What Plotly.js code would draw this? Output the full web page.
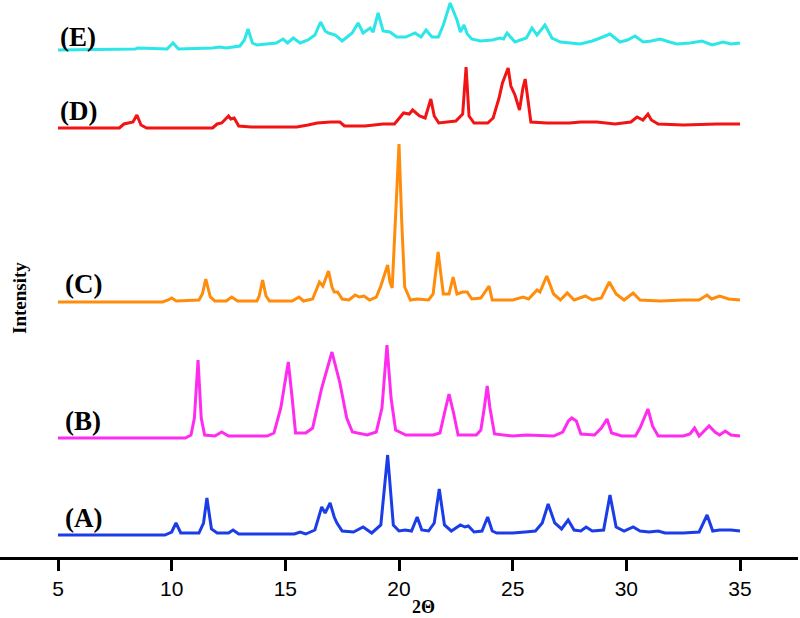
<!DOCTYPE html>
<html>
<head>
<meta charset="utf-8">
<script src="https://cdn.plot.ly/plotly-3.0.1.min.js"></script>
<style>
  html, body { margin: 0; padding: 0; background: #fff; }
  #chart { width: 800px; height: 618px; }
</style>
</head>
<body>
<div id="chart"></div>
<script>
// 2theta / intensity pairs (intensity above each pattern's own baseline)
let patternA = [[5,0],[9.7,0],[10.0,3],[10.19,12],[10.4,2],[11.2,2],[11.4,12],[11.55,37],[11.75,6],[12.0,2],[12.5,2],[12.7,5],[12.95,1],[15.4,1],[15.65,3],[15.9,1],[16.3,5],[16.6,28],[16.75,22],[16.97,32],[17.15,18],[17.27,12],[17.5,4],[18.0,3],[18.42,8],[18.8,2],[19.2,10],[19.5,80],[19.75,10],[20.0,4],[20.27,5],[20.55,4],[20.8,18],[21.0,5],[21.3,4],[21.55,12],[21.77,46],[22.0,10],[22.3,4],[22.7,10],[22.9,8],[23.05,9],[23.3,3],[23.65,4],[23.9,18],[24.1,4],[24.3,2],[25.0,2],[25.55,3],[26.0,4],[26.3,12],[26.56,31],[26.85,12],[27.15,6],[27.44,15],[27.7,5],[28.0,4],[28.23,8],[28.5,4],[29.0,5],[29.28,40],[29.55,8],[29.9,4],[30.3,8],[30.6,4],[31.0,3],[31.4,4],[31.7,2],[32.5,2],[33.2,3],[33.55,20],[33.8,4],[34.1,5],[34.6,5],[35,4]];

let patternB = [[5,0],[10.6,0],[10.85,3],[11.0,20],[11.16,78],[11.3,20],[11.45,3],[11.9,2],[12.2,6],[12.5,2],[14.2,2],[14.5,5],[14.8,30],[15.13,76],[15.3,40],[15.45,5],[15.9,5],[16.2,10],[16.6,50],[17.05,86],[17.4,55],[17.7,20],[17.95,6],[18.6,3],[19.0,6],[19.25,30],[19.47,93],[19.65,40],[19.85,8],[20.3,3],[21.5,3],[21.8,5],[22.0,25],[22.2,44],[22.4,25],[22.6,3],[23.4,3],[23.6,8],[23.75,30],[23.88,52],[24.0,30],[24.2,4],[25.0,2],[25.6,3],[26.8,2],[27.2,6],[27.45,17],[27.6,20],[27.8,17],[28.0,4],[28.6,3],[28.9,10],[29.15,19],[29.35,5],[29.8,2],[30.4,2],[30.6,10],[30.95,29],[31.15,12],[31.4,2],[32.5,2],[32.8,4],[33.0,10],[33.2,2],[33.64,12],[33.9,6],[34.1,3],[34.35,7],[34.6,3],[35,2]];

let patternC = [[5,0],[9.6,0],[9.85,2],[10.0,4],[10.2,1],[11.2,2],[11.35,8],[11.5,23],[11.7,5],[11.9,1],[12.4,1],[12.64,5],[12.9,1],[13.75,1],[13.85,6],[14.0,22],[14.15,6],[14.3,1],[15.3,1],[15.6,5],[15.8,1],[16.2,3],[16.5,20],[16.65,16],[16.9,31],[17.05,15],[17.15,10],[17.3,10],[17.5,3],[17.8,2],[18.07,7],[18.25,5],[18.46,6],[18.7,2],[19.0,5],[19.2,16],[19.5,37],[19.6,20],[19.7,14],[19.85,80],[20.0,158],[20.12,80],[20.25,15],[20.5,2],[20.8,3],[21.3,2],[21.5,8],[21.72,50],[21.95,8],[22.2,8],[22.38,25],[22.55,8],[22.8,10],[23.0,10],[23.2,3],[23.6,4],[23.96,16],[24.1,2],[25.0,2],[25.46,5],[25.7,3],[26.07,12],[26.2,10],[26.5,26],[26.8,8],[27.1,2],[27.4,9],[27.7,2],[28.2,6],[28.5,2],[28.9,4],[29.25,20],[29.55,8],[29.9,2],[30.3,9],[30.6,2],[31.5,1],[32.5,2],[33.2,2],[33.55,7],[33.75,3],[34.1,6],[34.5,3],[35,2]];

let patternD = [[5,0],[7.7,0],[7.9,4],[8.1,5],[8.3,6],[8.47,13],[8.65,3],[8.9,0],[11.8,0],[12.0,4],[12.2,5],[12.5,12],[12.6,9],[12.75,10],[12.95,2],[13.5,1],[15.5,1],[16.0,3],[16.4,5],[17.0,6],[17.4,6],[17.6,2],[18.5,2],[19.3,4],[19.8,4],[20.2,15],[20.45,14],[20.6,18],[20.9,12],[21.15,10],[21.4,29],[21.55,12],[21.75,5],[22.5,7],[22.8,14],[22.95,61],[23.08,12],[23.3,5],[23.9,5],[24.14,10],[24.4,30],[24.55,45],[24.8,60],[24.92,42],[25.1,33],[25.3,18],[25.45,40],[25.55,49],[25.68,25],[25.8,6],[26.5,5],[27.5,5],[28.0,6],[28.7,6],[29.5,4],[30.2,6],[30.47,11],[30.73,8],[30.95,14],[31.1,8],[31.4,4],[32.5,3],[34,4],[35,4]];

let patternE = [[5,0],[8.4,1],[8.5,2],[9.8,1],[10.06,7],[10.3,1],[11.8,2],[12.1,3],[12.4,2],[13.0,4],[13.2,10],[13.36,21],[13.55,7],[13.75,5],[14.6,7],[14.9,11],[15.1,7],[15.35,12],[15.65,7],[16.0,10],[16.3,15],[16.55,28],[16.75,19],[16.9,17],[17.2,15],[17.5,9],[17.94,17],[18.2,27],[18.42,17],[18.73,22],[18.86,18],[19.08,37],[19.3,19],[19.6,18],[19.9,13],[20.3,13],[20.7,17],[20.97,13],[21.19,20],[21.45,13],[21.73,13],[21.95,25],[22.25,47],[22.4,38],[22.55,30],[22.7,18],[22.86,25],[23.0,16],[23.2,11],[23.57,9],[24.1,10],[24.44,12],[24.6,11],[24.75,17],[25.1,8],[25.6,12],[25.85,22],[26.07,15],[26.42,25],[26.73,12],[27.1,8],[27.97,6],[28.5,9],[28.85,12],[29.28,16],[29.72,8],[30.05,10],[30.38,14],[30.74,8],[31.1,9],[31.48,11],[31.9,8],[32.23,6],[32.8,7],[33.33,9],[33.77,5],[34.26,8],[34.6,6],[35,7]];

let labels = ['(A)', '(B)', '(C)', '(D)', '(E)'];
let offsets = [22, 119, 255, 429, 507];
let colors = ['#1a3de8', '#ff2cf0', '#ff8c0a', '#f21414', '#2ce6e8'];
let patterns = [patternA, patternB, patternC, patternD, patternE];
let labelY = [39, 136, 273, 446, 520];
let labelX = [5.2, 5.2, 5.2, 5.0, 5.0];

let traces = [];
for (let i = 0; i < patterns.length; i++) {
    traces.push({
        x: patterns[i].map(p => p[0]),
        y: patterns[i].map(p => p[1] + offsets[i]),
        mode: 'lines',
        line: {color: colors[i], width: 3},
        cliponaxis: false,
        hoverinfo: 'skip',
        showlegend: false
    });
}

let serif = 'Liberation Serif, Times New Roman, serif';
let annotations = labels.map((t, i) => ({
    text: t, x: labelX[i], y: labelY[i], xref: 'x', yref: 'y',
    xanchor: 'left', yanchor: 'middle', showarrow: false,
    font: {family: serif, size: 27, color: '#000', weight: 'bold'}
}));
annotations.push({
    text: 'Intensity', textangle: -90, x: 19 / 798, xref: 'paper', y: 259, yref: 'y',
    xanchor: 'center', yanchor: 'middle', showarrow: false,
    font: {family: serif, size: 19, color: '#000', weight: 'bold'}
});
annotations.push({
    text: '2Θ', x: 21.06, xref: 'x', y: -0.0898, yref: 'paper',
    xanchor: 'center', yanchor: 'middle', showarrow: false, borderpad: 0,
    font: {family: serif, size: 18, color: '#000', weight: 'bold'}
});

let layout = {
    width: 800,
    height: 618,
    margin: {l: 0, r: 2, t: 0, b: 61},
    paper_bgcolor: '#fff',
    plot_bgcolor: '#fff',
    xaxis: {
        range: [2.449, 37.55],
        tickvals: [5, 10, 15, 20, 25, 30, 35],
        showline: true, linewidth: 3, linecolor: '#000',
        ticks: 'outside', ticklen: 11, tickwidth: 3, tickcolor: '#000',
        showgrid: false, zeroline: false,
        tickfont: {family: 'Liberation Sans, Arial, sans-serif', size: 21, color: '#000'}
    },
    yaxis: {range: [0, 557], visible: false},
    annotations: annotations
};

Plotly.newPlot('chart', traces, layout, {displayModeBar: false, staticPlot: true});
</script>
</body>
</html>
